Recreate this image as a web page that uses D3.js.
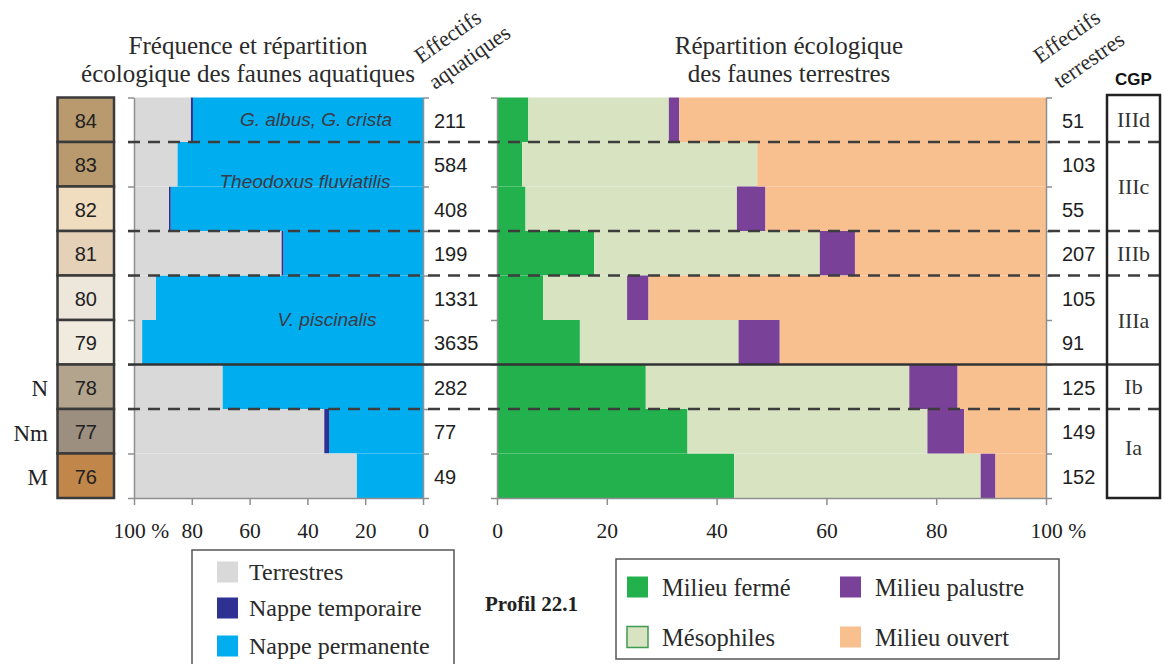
<!DOCTYPE html>
<html>
<head>
<meta charset="utf-8">
<script src="https://cdn.jsdelivr.net/npm/d3@7"></script>
<style>
  body { margin: 0; background: #fff; }
  svg text { font-kerning: normal; }
</style>
</head>
<body>
<svg id="chart" width="1164" height="664"></svg>
<script>
// Levels of profile 22.1, from top to bottom
const levels = ['84', '83', '82', '81', '80', '79', '78', '77', '76'];
const levelColors = ['#b99a6e', '#b99a6e', '#f0ddbf', '#e5d1b8', '#ede6da', '#f1ebdf', '#b3a48e', '#9c8f80', '#c0864a'];
const faciesLevels = ['78', '77', '76'];
const faciesLabels = ['N', 'Nm', 'M'];

// Aquatic fauna: share of each ecological group (%)
const aquaPermanente = [79.6, 85.0, 87.3, 48.3, 92.5, 97.2, 69.4, 32.5, 23.0];
const aquaTemporaire = [0.8, 0, 0.6, 0.7, 0, 0, 0, 1.7, 0];
const aquaTerrestres = [19.6, 15.0, 12.1, 51.0, 7.5, 2.8, 30.6, 65.8, 77.0];
const aquaCounts = [211, 584, 408, 199, 1331, 3635, 282, 77, 49];

// Terrestrial fauna: share of each ecological group (%)
const terFerme = [5.7, 4.6, 5.2, 17.7, 8.4, 15.1, 27.1, 34.7, 43.2];
const terMeso = [25.6, 42.8, 38.5, 41.1, 15.3, 28.9, 48.0, 43.7, 44.9];
const terPalustre = [1.9, 0, 5.2, 6.4, 3.9, 7.5, 8.8, 6.7, 2.7];
const terOuvert = [66.8, 52.6, 51.1, 34.8, 72.4, 48.5, 16.1, 14.9, 9.2];
const terCounts = [51, 103, 55, 207, 105, 91, 125, 149, 152];

// Malacological zones (CGP) and their level spans
const zoneLabels = ['IIId', 'IIIc', 'IIIb', 'IIIa', 'Ib', 'Ia'];
const zoneTop = ['84', '83', '81', '80', '78', '77'];
const zoneBottom = ['84', '82', '81', '79', '78', '76'];
const zoneBreakStyle = ['dash', 'dash', 'dash', 'solid', 'dash'];

// Species named on the aquatic panel
const speciesNames = ['G. albus, G. crista', 'Theodoxus fluviatilis', 'V. piscinalis'];
const speciesLevel = ['84', '83', '80'];

// Axis ticks
const aquaTicks = [100, 80, 60, 40, 20, 0];
const terTicks = [0, 20, 40, 60, 80, 100];

const SERIF = '"Liberation Serif", "Times New Roman", serif';
const SANS = '"Liberation Sans", Arial, sans-serif';

const aquaKeys = ['permanente', 'temporaire', 'terrestres'];
const aquaColors = { permanente: '#00aeef', temporaire: '#2e3192', terrestres: '#d9d9d9' };
const aquaLegend = ['Terrestres', 'Nappe temporaire', 'Nappe permanente'];
const aquaLegendKeys = ['terrestres', 'temporaire', 'permanente'];

const terKeys = ['ferme', 'meso', 'palustre', 'ouvert'];
const terColors = { ferme: '#22b14c', meso: '#d8e4c1', palustre: '#7a4199', ouvert: '#f9c08f' };
const terLegend = ['Milieu fermé', 'Milieu palustre', 'Mésophiles', 'Milieu ouvert'];
const terLegendKeys = ['ferme', 'palustre', 'meso', 'ouvert'];

const svg = d3.select('#chart');

const plotTop = 97.5, plotBottom = 498;
const y = d3.scaleBand().domain(levels).range([plotTop, plotBottom]).padding(0);
const yEdge = d3.scaleLinear().domain([0, levels.length]).range([plotTop, plotBottom]);
const xA = d3.scaleLinear().domain([100, 0]).range([134, 423]);
const xT = d3.scaleLinear().domain([0, 100]).range([497, 1046]);

const aquaRows = levels.map((l, i) => ({
  level: l, permanente: aquaPermanente[i], temporaire: aquaTemporaire[i], terrestres: aquaTerrestres[i]
}));
const terRows = levels.map((l, i) => ({
  level: l, ferme: terFerme[i], meso: terMeso[i], palustre: terPalustre[i], ouvert: terOuvert[i]
}));

// ---- Aquatic panel (values grow from right to left)
const aquaStack = d3.stack().keys(aquaKeys)(aquaRows);
svg.append('g').selectAll('g').data(aquaStack).join('g')
  .attr('fill', s => aquaColors[s.key])
  .selectAll('rect').data(s => s).join('rect')
  .attr('x', d => xA(d[1]))
  .attr('width', d => Math.max(0, xA(d[0]) - xA(d[1])))
  .attr('y', d => y(d.data.level))
  .attr('height', y.bandwidth());

// ---- Terrestrial panel
const terStack = d3.stack().keys(terKeys)(terRows);
svg.append('g').selectAll('g').data(terStack).join('g')
  .attr('fill', s => terColors[s.key])
  .selectAll('rect').data(s => s).join('rect')
  .attr('x', d => xT(d[0]))
  .attr('width', d => Math.max(0, xT(d[1]) - xT(d[0])))
  .attr('y', d => y(d.data.level))
  .attr('height', y.bandwidth());

// ---- Axes
const axisColor = '#8f8f8f';
function styleAxis(g) {
  g.selectAll('.domain').attr('stroke', axisColor).attr('stroke-width', 1.5);
  g.selectAll('.tick line').attr('stroke', axisColor).attr('stroke-width', 1.5);
}
const edgeTicks = d3.range(levels.length + 1);
[[xA(100), d3.axisLeft], [xA(0), d3.axisRight], [xT(0), d3.axisLeft], [xT(100), d3.axisRight]].forEach(([xp, ax]) => {
  svg.append('g').attr('transform', `translate(${xp},0)`)
    .call(ax(yEdge).tickValues(edgeTicks).tickFormat('').tickSize(6).tickSizeOuter(0))
    .call(styleAxis);
});

function pctLabel(v) { return v === 100 ? '100 %' : String(v); }
function bottomAxis(scale, ticks, hundredDx) {
  const g = svg.append('g').attr('transform', `translate(0,${plotBottom})`)
    .call(d3.axisBottom(scale).tickValues(ticks).tickFormat(pctLabel).tickSize(7).tickSizeOuter(0))
    .call(styleAxis);
  g.selectAll('.tick text')
    .attr('y', 40).attr('dy', 0)
    .attr('font-family', SERIF).attr('font-size', 21.5).attr('fill', '#222')
    .filter(d => d === 100)
    .attr('text-anchor', 'start').attr('x', hundredDx);
}
bottomAxis(xA, aquaTicks, -21);
bottomAxis(xT, terTicks, -16);

// ---- Species names on the aquatic panel
const speciesX = [316, 305, 327];
const speciesDy = [0.5, 0.88, 0.98];
speciesNames.forEach((name, i) => {
  const lv = speciesLevel[i];
  svg.append('text')
    .attr('x', speciesX[i]).attr('y', y(lv) + y.bandwidth() * speciesDy[i])
    .attr('dominant-baseline', 'central').attr('text-anchor', 'middle')
    .attr('font-family', SANS).attr('font-style', 'italic').attr('font-size', 19)
    .attr('fill', '#3a3a46').text(name);
});

// ---- Counts
levels.forEach((l, i) => {
  const cy = y(l) + y.bandwidth() / 2 + 1;
  svg.append('text').attr('x', 434).attr('y', cy).attr('dominant-baseline', 'central')
    .attr('font-family', SANS).attr('font-size', 20).attr('fill', '#1e1e1e').text(aquaCounts[i]);
  svg.append('text').attr('x', 1062).attr('y', cy).attr('dominant-baseline', 'central')
    .attr('font-family', SANS).attr('font-size', 20).attr('fill', '#1e1e1e').text(terCounts[i]);
});

// ---- Stratigraphic column
const colX = 57.5, colW = 56.5;
const col = svg.append('g');
col.selectAll('rect').data(levels).join('rect')
  .attr('x', colX).attr('y', d => y(d)).attr('width', colW).attr('height', y.bandwidth())
  .attr('fill', (d, i) => levelColors[i]).attr('stroke', '#3a3a3a').attr('stroke-width', 2.5);
col.selectAll('text').data(levels).join('text')
  .attr('x', colX + colW / 2).attr('y', d => y(d) + y.bandwidth() / 2 + 1)
  .attr('text-anchor', 'middle').attr('dominant-baseline', 'central')
  .attr('font-family', SANS).attr('font-size', 20).attr('fill', '#222').text(d => d);
faciesLevels.forEach((l, i) => {
  svg.append('text').attr('x', 48).attr('y', y(l) + y.bandwidth() / 2 + 2)
    .attr('text-anchor', 'end').attr('dominant-baseline', 'central')
    .attr('font-family', SERIF).attr('font-size', 23).attr('fill', '#222').text(faciesLabels[i]);
});

// ---- Zone boundaries across both panels
zoneBottom.slice(0, -1).forEach((lv, i) => {
  const yy = y(lv) + y.bandwidth();
  svg.append('line')
    .attr('x1', 128).attr('x2', 1160).attr('y1', yy).attr('y2', yy)
    .attr('stroke', zoneBreakStyle[i] === 'solid' ? '#333' : '#3d3d3d')
    .attr('stroke-width', 2.5)
    .attr('stroke-dasharray', zoneBreakStyle[i] === 'solid' ? null : '12,8');
});

// ---- CGP column
const cgpX = 1107, cgpW = 53;
svg.append('rect').attr('x', cgpX).attr('y', 95).attr('width', cgpW).attr('height', plotBottom - 95)
  .attr('fill', 'none').attr('stroke', '#222').attr('stroke-width', 2.5);
zoneLabels.forEach((z, i) => {
  const y0 = y(zoneTop[i]), y1 = y(zoneBottom[i]) + y.bandwidth();
  let cy = (y0 + y1) / 2;
  if (z === 'Ia') cy -= 6;
  svg.append('text').attr('x', cgpX + cgpW / 2).attr('y', cy)
    .attr('text-anchor', 'middle').attr('dominant-baseline', 'central')
    .attr('font-family', SERIF).attr('font-size', 22).attr('fill', '#333').text(z);
});
svg.append('text').attr('x', cgpX + cgpW / 2).attr('y', 79)
  .attr('text-anchor', 'middle').attr('dominant-baseline', 'central')
  .attr('font-family', SANS).attr('font-weight', 'bold').attr('font-size', 17).attr('fill', '#111').text('CGP');

// ---- Titles
function title(lines, cx) {
  lines.forEach((t, i) => {
    svg.append('text').attr('x', cx).attr('y', 54 + i * 28)
      .attr('text-anchor', 'middle')
      .attr('font-family', SERIF).attr('font-size', 25).attr('fill', '#2a2a2a').text(t);
  });
}
title(['Fréquence et répartition', 'écologique des faunes aquatiques'], 248);
title(['Répartition écologique', 'des faunes terrestres'], 789);

function slanted(lines, pts) {
  lines.forEach((t, i) => {
    svg.append('text')
      .attr('transform', `translate(${pts[i][0]},${pts[i][1]}) rotate(-35)`)
      .attr('font-family', SERIF).attr('font-size', 22).attr('fill', '#2a2a2a').text(t);
  });
}
slanted(['Effectifs', 'aquatiques'], [[421, 64], [435, 90]]);
slanted(['Effectifs', 'terrestres'], [[1040, 64], [1060, 89]]);

// ---- Legends
const legA = svg.append('g');
legA.append('rect').attr('x', 192).attr('y', 550).attr('width', 262).attr('height', 130)
  .attr('fill', 'none').attr('stroke', '#555').attr('stroke-width', 1.5);
const legAy = [572, 608, 646];
aquaLegend.forEach((t, i) => {
  legA.append('rect').attr('x', 217).attr('y', legAy[i] - 10.5).attr('width', 21).attr('height', 21)
    .attr('fill', aquaColors[aquaLegendKeys[i]]);
  legA.append('text').attr('x', 249).attr('y', legAy[i]).attr('dominant-baseline', 'central')
    .attr('font-family', SERIF).attr('font-size', 24).attr('fill', '#2a2a2a').text(t);
});

svg.append('text').attr('x', 485).attr('y', 604).attr('dominant-baseline', 'central')
  .attr('font-family', SERIF).attr('font-weight', 'bold').attr('font-size', 21).attr('fill', '#222')
  .text('Profil 22.1');

const legT = svg.append('g');
legT.append('rect').attr('x', 616).attr('y', 559).attr('width', 443).attr('height', 100)
  .attr('fill', 'none').attr('stroke', '#555').attr('stroke-width', 1.5);
const legTx = [627, 840, 627, 840];
const legTy = [587, 587, 637, 637];
terLegend.forEach((t, i) => {
  const k = terLegendKeys[i];
  legT.append('rect').attr('x', legTx[i]).attr('y', legTy[i] - 10.5).attr('width', 21).attr('height', 21)
    .attr('fill', terColors[k])
    .attr('stroke', k === 'meso' ? '#3f9a52' : 'none').attr('stroke-width', 1.5);
  legT.append('text').attr('x', legTx[i] + 35).attr('y', legTy[i]).attr('dominant-baseline', 'central')
    .attr('font-family', SERIF).attr('font-size', 24.5).attr('fill', '#2a2a2a').text(t);
});
</script>
</body>
</html>
